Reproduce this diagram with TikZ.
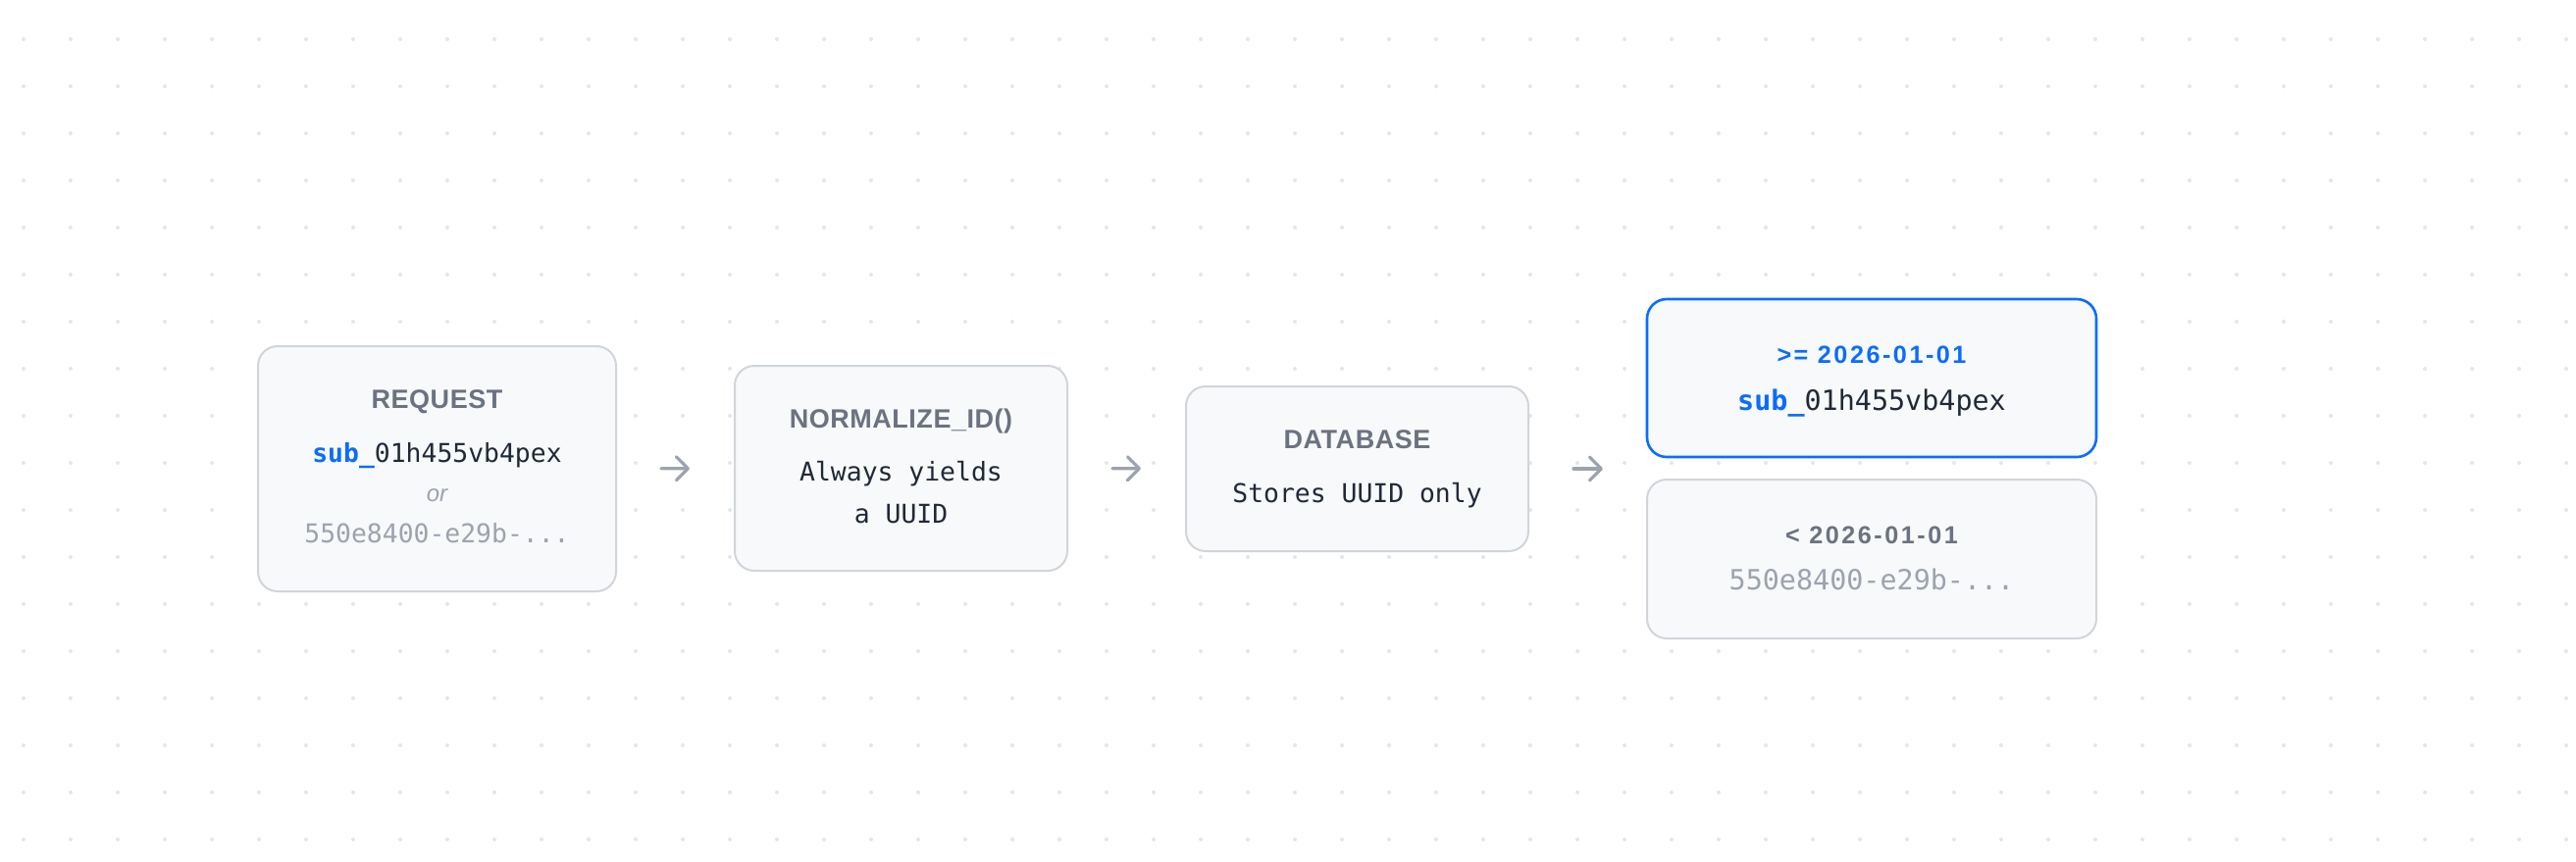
\documentclass[tikz,border=0pt]{standalone}
\usepackage{fontspec}
\usetikzlibrary{arrows.meta}
\newfontfamily\headf[LetterSpace=2]{Liberation Sans}
\newfontfamily\datef[LetterSpace=10]{Liberation Sans}
\newfontfamily\monof{DejaVu Sans Mono}
\newfontfamily\sansf{Liberation Sans}
\definecolor{dotc}{HTML}{E4E6EA}
\definecolor{boxfill}{HTML}{F8F9FB}
\definecolor{boxline}{HTML}{D1D5DB}
\definecolor{headgray}{HTML}{6B7280}
\definecolor{ink}{HTML}{1F2937}
\definecolor{faint}{HTML}{9CA3AF}
\definecolor{accent}{HTML}{0B6CFF}
\definecolor{arrowgray}{HTML}{9CA3AF}
\tikzset{
  box/.style={draw=boxline, line width=1pt, fill=boxfill, rounded corners=10pt, inner sep=0pt},
  hlbox/.style={box, draw=accent, line width=1.3pt},
  head/.style={anchor=base, inner sep=0pt, font=\headf\bfseries\fontsize{13.5}{16}\selectfont, text=headgray},
  monotxt/.style={anchor=base, inner sep=0pt, font=\monof\fontsize{13.2}{16}\selectfont, text=ink},
  monobig/.style={anchor=base, inner sep=0pt, font=\monof\fontsize{14.2}{17}\selectfont, text=ink},
  datetxt/.style={anchor=base, inner sep=0pt, font=\datef\bfseries\fontsize{12.6}{15}\selectfont},
  ortxt/.style={anchor=base, inner sep=0pt, font=\sansf\itshape\fontsize{12}{14}\selectfont, text=faint},
  arr/.style={draw=arrowgray, line width=1.6pt, line cap=round,
    -{Straight Barb[length=6pt,width=12pt,line cap=round,line join=round]},
    shorten <=22.5pt, shorten >=22.5pt}
}
\begin{document}
\begin{tikzpicture}[x=0.5pt,y=-0.5pt]
\fill[white] (0,0) rectangle (2626,878);
\useasboundingbox (0,0) rectangle (2626,878);
% dot grid
\foreach \i in {0,...,54}{
  \foreach \j in {0,...,17}{
    \fill[dotc] ({24+48*\i},{40+48*\j}) circle[radius=1pt];
  }
}
% boxes
\node[box, minimum width=182.5pt, minimum height=125pt] (req) at (445.5,478) {};
\node[box, minimum width=169.5pt, minimum height=104.5pt] (norm) at (918.5,477.5) {};
\node[box, minimum width=174.5pt, minimum height=84pt] (db) at (1383.5,478) {};
\node[hlbox, minimum width=229pt, minimum height=80.5pt] (new) at (1908,385.5) {};
\node[box, minimum width=229pt, minimum height=81pt] (old) at (1908,570) {};
\coordinate (split) at (1679,478);
% request texts
\node[head] (reqH) at (445.5,416.7) {REQUEST};
\node[monotxt] (reqA) at (445.5,471.7) {{\bfseries\color{accent}sub\_}01h455vb4pex};
\node[ortxt] (reqOr) at (445.5,511.7) {or};
\node[monotxt, text=faint] (reqB) at (445.5,553.3) {550e8400-e29b-...};
% normalize texts
\node[head] (normH) at (918.5,436) {NORMALIZE\_ID()};
\node[monotxt] (normA) at (918.5,490) {Always yields};
\node[monotxt] (normB) at (918.5,533.3) {a UUID};
% database texts
\node[head] (dbH) at (1383.5,457.3) {DATABASE};
\node[monotxt] (dbA) at (1383.5,512.3) {Stores UUID only};
% new ids
\node[datetxt, text=accent] (newH) at (1908,370) {>= 2026-01-01};
\node[monobig] (newA) at (1908,418.3) {{\bfseries\color{accent}sub\_}01h455vb4pex};
% old ids
\node[datetxt, text=headgray] (oldH) at (1908,554.3) {< 2026-01-01};
\node[monobig, text=faint] (oldA) at (1908,601.7) {550e8400-e29b-...};
% arrows
\draw[arr] (req.east) -- (norm.west);
\draw[arr] (norm.east) -- (db.west);
\draw[arr] (db.east) -- (split);
\end{tikzpicture}
\end{document}
